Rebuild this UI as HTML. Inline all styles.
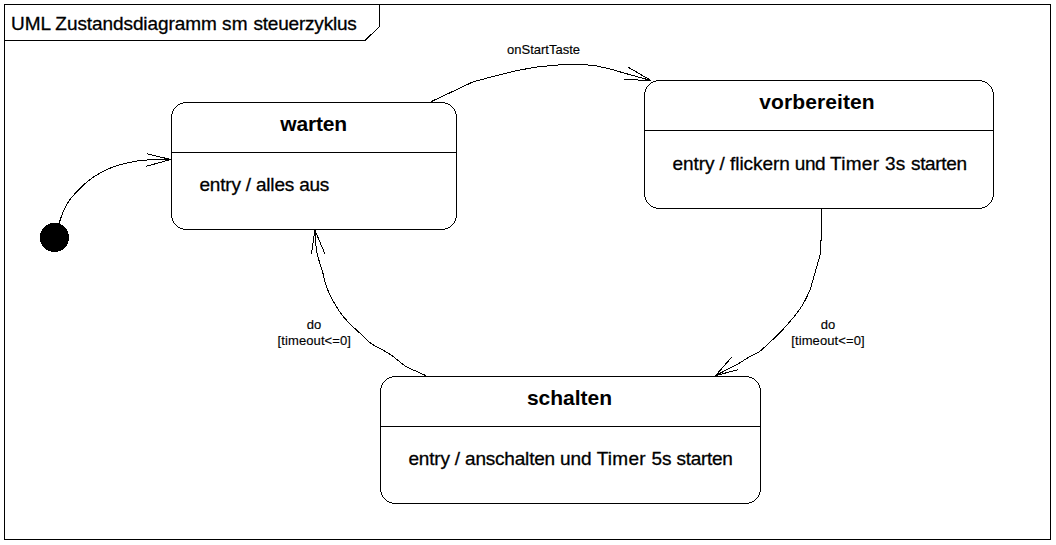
<!DOCTYPE html>
<html>
<head>
<meta charset="utf-8">
<style>
html,body{margin:0;padding:0;background:#fff;}
body{width:1056px;height:545px;overflow:hidden;position:relative;font-family:"Liberation Sans",sans-serif;color:#000;}
svg{position:absolute;left:0;top:0;}
.t{position:absolute;white-space:nowrap;line-height:1;-webkit-text-stroke:0.3px #000;}
.title{font-size:19px;letter-spacing:-0.08px;}
.h{font-size:21px;font-weight:bold;text-align:center;-webkit-text-stroke:0;}
.b{font-size:19px;letter-spacing:-0.1px;}
.s{font-size:13px;text-align:center;-webkit-text-stroke:0.15px #000;}
</style>
</head>
<body>
<svg width="1056" height="545" viewBox="0 0 1056 545" fill="none" stroke="#000" stroke-width="1" shape-rendering="crispEdges">
  <!-- outer frame -->
  <rect x="4.5" y="4.5" width="1046" height="535"/>
  <!-- title tab -->
  <path d="M379.5 4.5 V26.5 L365 40.5 H4.5"/>
  <!-- warten -->
  <rect x="171.5" y="102.5" width="285" height="127" rx="15" ry="15"/>
  <path d="M171.5 152.5 H456.5"/>
  <!-- vorbereiten -->
  <rect x="644.5" y="80.5" width="349" height="128" rx="15" ry="15"/>
  <path d="M644.5 130.5 H993.5"/>
  <!-- schalten -->
  <rect x="380.5" y="376.5" width="380" height="127" rx="15" ry="15"/>
  <path d="M380.5 426.5 H760.5"/>
  <!-- initial -->
  <circle cx="54.5" cy="237.5" r="14.6" fill="#000" stroke="none"/>
  <path d="M59.0 223.7 C59.6 221.9 61.1 216.7 62.8 212.8 C64.5 209.0 66.8 204.2 69.3 200.6 C71.8 196.9 74.4 194.2 77.6 190.9 C80.8 187.6 84.5 183.8 88.5 180.7 C92.5 177.6 97.0 174.7 101.3 172.3 C105.6 170.0 109.4 168.2 114.2 166.6 C119.0 164.9 126.2 163.3 130.0 162.4 C133.8 161.5 134.2 161.4 137.0 161.0 C139.8 160.6 143.5 160.2 147.0 160.0 C150.5 159.8 154.1 159.6 158.0 159.6 C161.9 159.5 168.4 159.5 170.5 159.5"/>
  <path d="M146.6 153.6 L170.5 159.5 L146 166.4"/>
  <!-- warten -> vorbereiten -->
  <path d="M430.8 101.8 L473.4 81.7 C479.6 80.1 500.6 74.4 510.9 72.0 C521.2 69.6 529.0 68.4 535.0 67.3 C538.0 66.8 542.8 66.6 546.8 66.0 C550.8 65.4 554.0 65.2 558.7 64.95 C565.4 64.5 580.8 64.5 587.1 64.95 C590.4 65.2 593.1 65.5 596.6 66.0 C600.1 66.7 604.5 67.6 608.4 68.6 C612.3 69.6 615.7 70.6 620.2 71.9 C624.7 73.2 630.6 74.9 635.6 76.3 C640.6 77.7 647.9 79.7 651.2 80.5"/>
  <path d="M628.5 67.4 L651.2 80.6 L624 79.4"/>
  <!-- vorbereiten -> schalten -->
  <path d="M821.4 208 V240.5 L820.5 241 L820.4 254 L810.6 288.2 C809.9 289.8 808.2 294.4 806.4 297.8 C804.6 301.2 802.8 304.9 800.0 308.9 C797.2 312.9 793.4 317.6 789.9 321.7 C786.4 325.8 782.3 330.2 778.9 333.6 C775.5 337.1 773.0 339.4 769.7 342.4 C766.5 345.4 762.7 349.2 759.4 351.6 C756.1 354.0 753.6 354.5 749.9 356.6 C746.2 358.7 742.2 361.5 737.4 364.2 C732.6 366.9 724.9 370.7 721.3 372.6 C717.7 374.5 716.5 375.1 715.6 375.6"/>
  <path d="M731.7 357.1 L715.6 375.6 L738.5 369.6"/>
  <!-- schalten -> warten -->
  <path d="M426.0 375.7 C424.3 374.9 419.2 372.6 415.8 371.0 C412.4 369.4 410.1 369.2 405.7 366.3 C401.3 363.4 395.0 357.6 389.3 353.8 C383.6 350.0 376.0 346.9 371.3 343.7 C366.6 340.4 364.7 337.6 361.2 334.3 C357.7 331.1 353.6 327.6 350.3 324.2 C347.0 320.8 344.2 317.9 341.3 314.0 C338.4 310.1 335.6 305.3 333.1 300.8 C330.6 296.3 328.2 291.6 326.5 286.8 C324.8 282.0 324.0 276.7 322.6 272.0 C321.2 267.3 319.3 261.7 318.4 258.5 C317.5 255.3 317.4 254.9 317.0 252.8 C316.6 250.7 316.3 248.3 316.0 245.8 C315.7 243.3 315.5 240.6 315.3 238.0 C315.1 235.4 315.0 231.5 314.9 230.2"/>
  <path d="M311.4 254.2 L314.9 230.2 L325.1 254.2"/>
</svg>
<div class="t title" style="left:11px;top:14px;">UML Zustandsdiagramm <span style="letter-spacing:0.3px">sm </span><span style="letter-spacing:-0.2px">steuerzyklus</span></div>
<div class="t h" style="left:170.6px;width:286px;top:113px;letter-spacing:-0.2px;">warten</div>
<div class="t b" style="left:199.5px;top:175px;letter-spacing:-0.2px;">entry / alles aus</div>
<div class="t h" style="left:642px;width:350px;top:91px;letter-spacing:0.1px;">vorbereiten</div>
<div class="t b" style="left:672.5px;top:154px;letter-spacing:-0.07px;">entry / flickern <span style="letter-spacing:-0.47px">und </span><span style="letter-spacing:0.31px">Timer </span><span style="letter-spacing:0.23px">3s </span><span style="letter-spacing:-0.33px">starten</span></div>
<div class="t h" style="left:379px;width:381px;top:387px;">schalten</div>
<div class="t b" style="left:408.5px;top:449px;"><span style="letter-spacing:-0.195px">entry / anschalten </span>und <span style="letter-spacing:0.28px">Timer </span>5s <span style="letter-spacing:-0.29px">starten</span></div>
<div class="t s" style="left:493.5px;width:100px;top:43px;">onStartTaste</div>
<div class="t s" style="left:264px;width:100px;top:318px;">do</div>
<div class="t s" style="left:264.3px;width:100px;top:334px;letter-spacing:0.1px;">[timeout&lt;=0]</div>
<div class="t s" style="left:778px;width:100px;top:318px;">do</div>
<div class="t s" style="left:778px;width:100px;top:334px;letter-spacing:0.1px;">[timeout&lt;=0]</div>
</body>
</html>
